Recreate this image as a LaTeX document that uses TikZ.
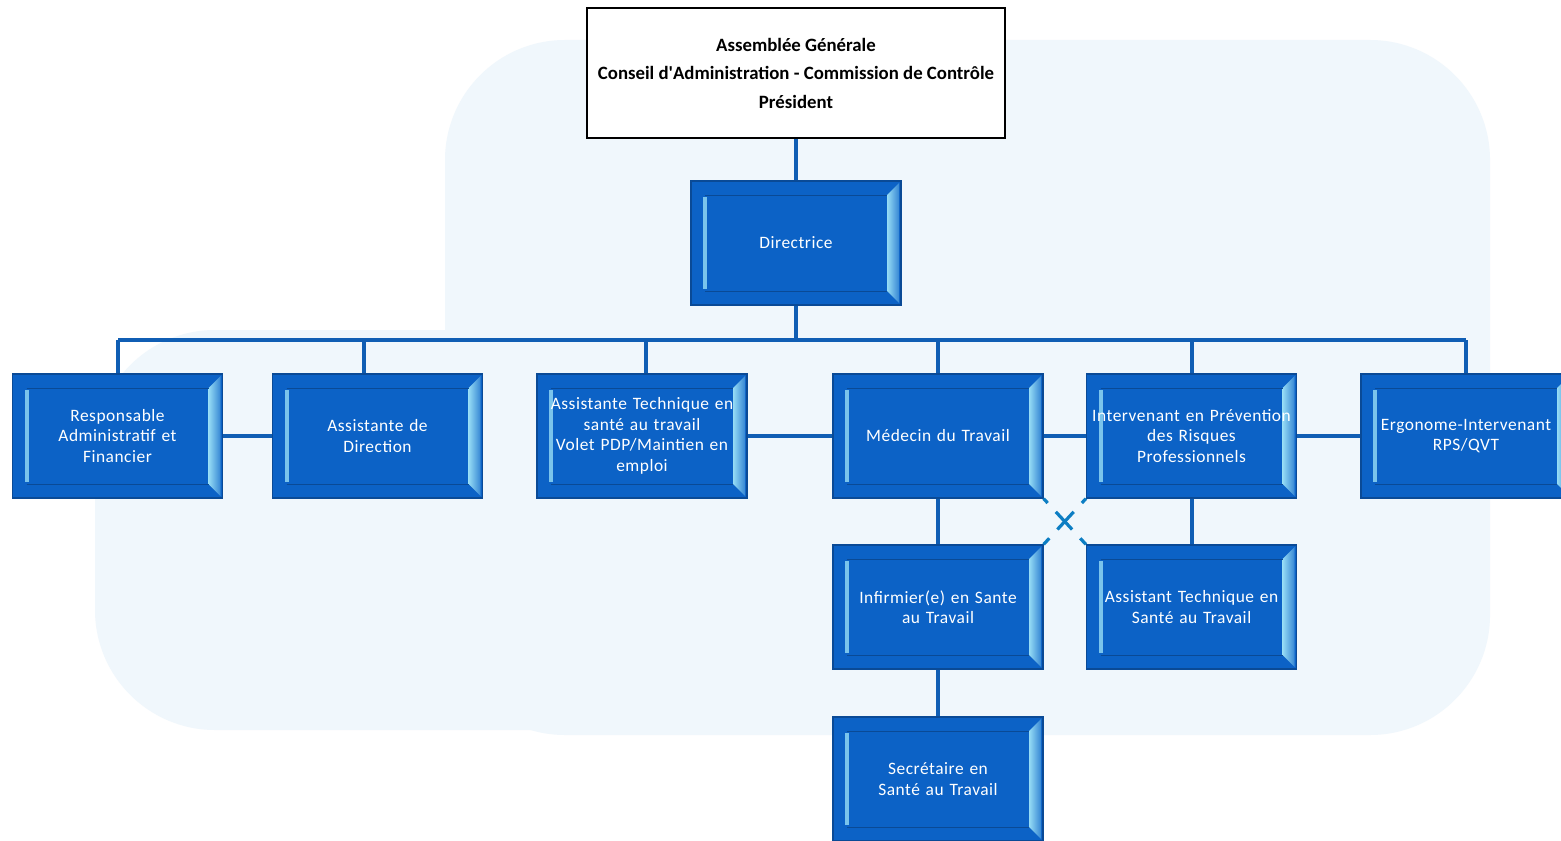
\documentclass[tikz,border=0pt]{standalone}
\usepackage{fontspec}
\setmainfont{Carlito}
\newfontfamily\boxfont[LetterSpace=3]{Carlito}
\usetikzlibrary{calc}

\definecolor{boxblue}{RGB}{12,98,198}
\definecolor{boxedge}{RGB}{10,74,150}
\definecolor{boxlight}{RGB}{150,220,245}
\definecolor{linkblue}{RGB}{16,94,180}
\definecolor{paleblue}{RGB}{240,247,252}

\tikzset{
	orgbox/.style={draw=boxedge, line width=0.6pt, fill=boxblue, text=white,
		minimum width=105pt, minimum height=62pt, inner sep=1pt,
		align=center, text width=103pt,
		font=\boxfont\fontsize{8.7}{10.25}\selectfont,
		path picture={
			\fill[boxlight!80!boxblue]
			($(path picture bounding box.north west)+(6pt,-8pt)$) rectangle ($(path picture bounding box.south west)+(8pt,8pt)$);
			\fill[left color=boxlight, right color=boxblue!70!boxlight]
			($(path picture bounding box.north east)+(-1pt,-1pt)$) -- ++(-6pt,-6pt)
			-- ($(path picture bounding box.south east)+(-7pt,7pt)$) -- ++(6pt,-6pt) -- cycle;
			\draw[boxedge, line width=0.4pt]
			($(path picture bounding box.north west)+(7pt,-7pt)$) -- ($(path picture bounding box.north east)+(-7pt,-7pt)$)
			($(path picture bounding box.south west)+(7pt,7pt)$) -- ($(path picture bounding box.south east)+(-7pt,7pt)$);
		}},
	link/.style={draw=linkblue, line width=2pt},
	cross/.style={draw=linkblue!80!cyan, line width=1.6pt,
		dash pattern=on 3pt off 6pt on 12pt off 6pt on 6pt}
}

\begin{document}
\begin{tikzpicture}[x=0.5pt, y=-0.5pt]
	\useasboundingbox (0,0) rectangle (1561,840);
	\fill[white] (0,0) rectangle (1561,840);
	\fill[paleblue, rounded corners=60pt] (445,40) rectangle (1490,735);
	\fill[paleblue, rounded corners=60pt] (95,330) rectangle (1000,730);

	\node[draw=black, line width=1.2pt, fill=white, minimum width=209pt, minimum height=65pt,
		align=center, font=\bfseries\fontsize{9.4}{14.25}\selectfont]
	(assemblee) at (796,73)
	{Assemblée Générale\\Conseil d\textquotesingle Administration - Commission de Contrôle\\Président};

	\node[orgbox] (dir) at (796,243) {Directrice};

	\node[orgbox] (raf) at (117.5,436) {Responsable\\Administratif et\\Financier};
	\node[orgbox] (asdir) at (377.5,436) {Assistante de\\Direction};
	\node[orgbox] (atst) at (642,436) {Assistante Technique en\\santé au travail\\Volet PDP/Maintien en\\emploi};
	\node[orgbox] (medecin) at (938,436) {Médecin du Travail};
	\node[orgbox] (iprp) at (1191.5,436) {Intervenant en Prévention\\des Risques\\Professionnels};
	\node[orgbox] (ergo) at (1466,436) {Ergonome-Intervenant\\RPS/QVT};

	\node[orgbox] (infirmier) at (938,607) {Infirmier(e) en Sante\\au Travail};
	\node[orgbox] (atsante) at (1191.5,607) {Assistant Technique en\\Santé au Travail};
	\node[orgbox] (secretaire) at (938,779) {Secrétaire en\\Santé au Travail};

	\coordinate (busL) at (118,340);
	\coordinate (busR) at (1466,340);

	\draw[link] (assemblee) -- (dir);
	\draw[link] (dir) -- (dir |- busL);
	\draw[link] (busL) -- (busR);
	\draw[link] (raf.north) -- (raf.north |- busL);
	\draw[link] ([xshift=-6.75pt]asdir.north) -- ([xshift=-6.75pt]asdir.north |- busL);
	\draw[link] ([xshift=2pt]atst.north) -- ([xshift=2pt]atst.north |- busL);
	\draw[link] (medecin.north) -- (medecin.north |- busL);
	\draw[link] (iprp.north) -- (iprp.north |- busL);
	\draw[link] (ergo.north) -- (ergo.north |- busL);

	\draw[link] (raf) -- (asdir);
	\draw[link] (atst) -- (medecin);
	\draw[link] (medecin) -- (iprp);
	\draw[link] (iprp) -- (ergo);

	\draw[link] (medecin) -- (infirmier);
	\draw[link] (infirmier) -- (secretaire);
	\draw[link] (iprp) -- (atsante);

	\draw[cross] (medecin.south east) -- (atsante.north west);
	\draw[cross] (iprp.south west) -- (infirmier.north east);
\end{tikzpicture}
\end{document}
